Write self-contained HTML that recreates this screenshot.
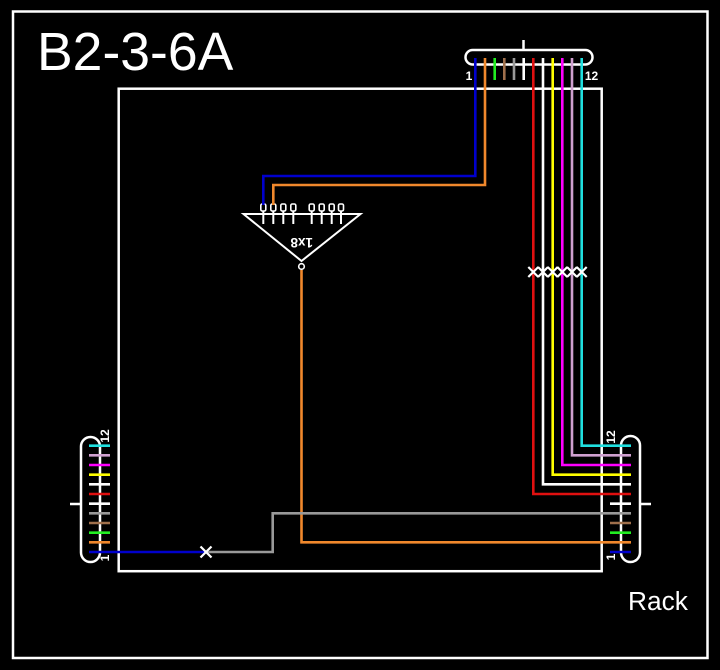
<!DOCTYPE html>
<html>
<head>
<meta charset="utf-8">
<style>
  html,body{margin:0;padding:0;background:#000;}
  body{width:720px;height:670px;overflow:hidden;}
  svg{display:block;}
</style>
</head>
<body>
<svg width="720" height="670" viewBox="0 0 720 670" xmlns="http://www.w3.org/2000/svg">
  <rect x="0" y="0" width="720" height="670" fill="#000"/>
  <!-- outer frame -->
  <rect x="13" y="11.5" width="694.5" height="646.5" fill="none" stroke="#fff" stroke-width="2.5"/>
  <!-- inner rack box -->
  <rect x="118.7" y="88.7" width="483" height="482.5" fill="none" stroke="#fff" stroke-width="2.5"/>

  <text x="37" y="70" font-family="Liberation Sans, sans-serif" font-size="53.5" fill="#fff">B2-3-6A</text>
  <text x="628" y="610" font-family="Liberation Sans, sans-serif" font-size="26.3" fill="#fff">Rack</text>

  <!-- connector pills -->
  <g fill="none" stroke="#fff" stroke-width="2.5">
    <rect x="465.5" y="50" width="127" height="14.5" rx="7.2"/>
    <rect x="81" y="437" width="19" height="125" rx="9.5"/>
    <rect x="621" y="436" width="19" height="126" rx="9.5"/>
    <line x1="523.5" y1="40" x2="523.5" y2="50"/>
    <line x1="70" y1="504" x2="81" y2="504"/>
    <line x1="640" y1="504" x2="651" y2="504"/>
  </g>

  <!-- connector labels -->
  <g font-family="Liberation Sans, sans-serif" font-size="12" font-weight="bold" fill="#fff">
    <text x="469" y="80" text-anchor="middle">1</text>
    <text x="591.5" y="80" text-anchor="middle">12</text>
    <text transform="translate(109,436) rotate(-90)" text-anchor="middle">12</text>
    <text transform="translate(109,558) rotate(-90)" text-anchor="middle">1</text>
    <text transform="translate(615,437) rotate(-90)" text-anchor="middle">12</text>
    <text transform="translate(615,557) rotate(-90)" text-anchor="middle">1</text>
  </g>

  <!-- splitter -->
  <g fill="none" stroke="#fff" stroke-width="2">
    <polygon points="243.5,214 360.5,214 301.5,261"/>
    <g stroke-width="1.6">
      <rect x="260.8" y="204" width="5" height="7" rx="1.5"/>
      <rect x="270.8" y="204" width="5" height="7" rx="1.5"/>
      <rect x="280.8" y="204" width="5" height="7" rx="1.5"/>
      <rect x="290.8" y="204" width="5" height="7" rx="1.5"/>
      <rect x="309.2" y="204" width="5" height="7" rx="1.5"/>
      <rect x="319.2" y="204" width="5" height="7" rx="1.5"/>
      <rect x="329.2" y="204" width="5" height="7" rx="1.5"/>
      <rect x="338.5" y="204" width="5" height="7" rx="1.5"/>
    </g>
    <g stroke-width="2">
      <line x1="263.3" y1="211" x2="263.3" y2="224"/>
      <line x1="273.3" y1="211" x2="273.3" y2="224"/>
      <line x1="283.3" y1="211" x2="283.3" y2="224"/>
      <line x1="293.3" y1="211" x2="293.3" y2="224"/>
      <line x1="311.7" y1="211" x2="311.7" y2="224"/>
      <line x1="321.7" y1="211" x2="321.7" y2="224"/>
      <line x1="331.7" y1="211" x2="331.7" y2="224"/>
      <line x1="341" y1="211" x2="341" y2="224"/>
    </g>
  </g>
  <text transform="translate(301.7,243) rotate(180)" x="0" y="5" text-anchor="middle" font-family="Liberation Sans, sans-serif" font-size="13.5" font-weight="bold" fill="#fff">1x8</text>

  <!-- wires -->
  <g fill="none" stroke-width="2.6" stroke-linejoin="miter">
    <!-- top connector -->
    <path d="M475.3,58 V176 H263.3 V205" stroke="#0000cc"/>
    <path d="M485,58 V185 H273.3 V205" stroke="#f0882c"/>
    <path d="M494.7,58 V80" stroke="#22ee22"/>
    <path d="M504.3,58 V80" stroke="#a0704c"/>
    <path d="M514,58 V80" stroke="#999999"/>
    <path d="M523.7,58 V80" stroke="#ffffff"/>
    <path d="M533.3,58 V494 H631" stroke="#e01010"/>
    <path d="M543,58 V484.3 H631" stroke="#ffffff"/>
    <path d="M552.7,58 V474.7 H631" stroke="#ffff00"/>
    <path d="M562.3,58 V465 H631" stroke="#ff00ff"/>
    <path d="M572,58 V455.3 H631" stroke="#d0a0d0"/>
    <path d="M581.7,58 V445.7 H631" stroke="#20e0e0"/>

    <!-- splitter output -->
    <path d="M301.5,270 V542.3 H631" stroke="#f0882c"/>
    <!-- gray path -->
    <path d="M206,552 H272.7 V513.3 H631" stroke="#999999"/>

    <!-- right connector stubs -->
    <path d="M610,552 H631" stroke="#0000cc"/>
    <path d="M610,532.7 H631" stroke="#22ee22"/>
    <path d="M610,523 H631" stroke="#a0704c"/>
    <path d="M610,503.7 H631" stroke="#ffffff"/>

    <!-- left connector stubs -->
    <path d="M89,552 H206" stroke="#0000cc"/>
    <path d="M89,542.3 H110" stroke="#f0882c"/>
    <path d="M89,532.7 H110" stroke="#22ee22"/>
    <path d="M89,523 H110" stroke="#a0704c"/>
    <path d="M89,513.3 H110" stroke="#999999"/>
    <path d="M89,503.7 H110" stroke="#ffffff"/>
    <path d="M89,494 H110" stroke="#e01010"/>
    <path d="M89,484.3 H110" stroke="#ffffff"/>
    <path d="M89,474.7 H110" stroke="#ffff00"/>
    <path d="M89,465 H110" stroke="#ff00ff"/>
    <path d="M89,455.3 H110" stroke="#d0a0d0"/>
    <path d="M89,445.7 H110" stroke="#20e0e0"/>
  </g>

  <!-- apex circle -->
  <circle cx="301.5" cy="266.5" r="2.8" fill="#000" stroke="#fff" stroke-width="1.6"/>

  <!-- X marks -->
  <g stroke="#fff" stroke-width="2.2" fill="none">
    <path d="M528.3,267 L538.3,277 M538.3,267 L528.3,277"/>
    <path d="M538,267 L548,277 M548,267 L538,277"/>
    <path d="M547.7,267 L557.7,277 M557.7,267 L547.7,277"/>
    <path d="M557.3,267 L567.3,277 M567.3,267 L557.3,277"/>
    <path d="M567,267 L577,277 M577,267 L567,277"/>
    <path d="M576.7,267 L586.7,277 M586.7,267 L576.7,277"/>
    <path d="M200.5,546.5 L211.5,557.5 M211.5,546.5 L200.5,557.5"/>
  </g>
</svg>
</body>
</html>
